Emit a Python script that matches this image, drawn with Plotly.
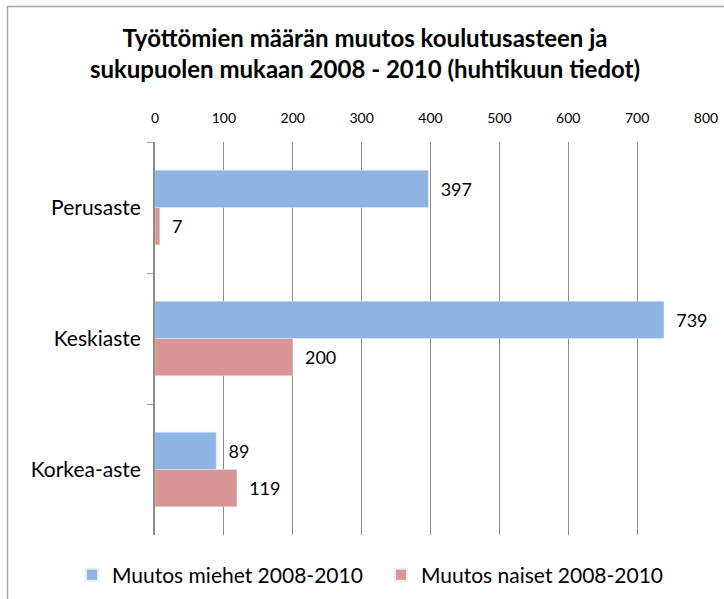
import plotly.graph_objects as go

categories = ["Perusaste", "Keskiaste", "Korkea-aste"]
miehet = [397, 739, 89]
naiset = [7, 200, 119]
series_names = ["Muutos miehet 2008-2010", "Muutos naiset 2008-2010"]
x_ticks = [0, 100, 200, 300, 400, 500, 600, 700, 800]

W, H = 724, 599
ml, mr, mt, mb = 155, 18, 142, 64
font_family = "Lato, 'Open Sans', sans-serif"

fig = go.Figure()
fig.add_trace(go.Bar(
    y=categories, x=miehet, orientation="h", name=series_names[0],
    marker=dict(color="#8EB4E3"), text=miehet, textposition="outside",
    texttemplate="\u00a0\u00a0%{x}",
    textfont=dict(size=18, color="#000000"), cliponaxis=False,
))
fig.add_trace(go.Bar(
    y=categories, x=naiset, orientation="h", name=series_names[1],
    marker=dict(color="#D99594"), text=naiset, textposition="outside",
    texttemplate="\u00a0\u00a0%{x}",
    textfont=dict(size=18, color="#000000"), cliponaxis=False,
))

pw = W - ml - mr
ph = H - mt - mb
def px_x(p):
    return (p - ml) / pw
def px_y(p):
    return 1 - (p - mt) / ph

fig.update_layout(
    width=W, height=H,
    margin=dict(l=ml, r=mr, t=mt, b=mb, autoexpand=False),
    paper_bgcolor="white", plot_bgcolor="white",
    barmode="group", bargap=0.43, bargroupgap=0,
    font=dict(family=font_family, color="#000000"),
    title=dict(
        text="<b>Työttömien määrän muutos koulutusasteen ja<br>sukupuolen mukaan 2008 - 2010 (huhtikuun tiedot)</b>",
        xref="container", yref="container",
        x=365 / W, xanchor="center", y=1 - 47 / H, yanchor="top",
        font=dict(size=24, family=font_family),
    ),
    xaxis=dict(
        side="top", range=[0, 800], tickvals=x_ticks, ticks="",
        showgrid=True, gridcolor="#8C8C8C", gridwidth=1,
        zeroline=False, showline=False, automargin=False,
        tickfont=dict(size=14), ticklabelstandoff=15,
    ),
    yaxis=dict(
        autorange="reversed", showline=True, linecolor="#8C8C8C", linewidth=2,
        ticks="outside", tickson="boundaries", ticklen=6, tickcolor="#A0A0A0",
        tickfont=dict(size=21), showgrid=False, ticklabelstandoff=8,
        automargin=False,
    ),
    legend=dict(
        orientation="h", xref="paper", yref="paper",
        x=px_x(72), xanchor="left", y=px_y(575), yanchor="middle",
        font=dict(size=21), itemsizing="constant", traceorder="normal",
        itemwidth=30, entrywidth=264, entrywidthmode="pixels",
    ),
    shapes=[
        dict(type="line", xref="paper", yref="paper", x0=px_x(7), x1=px_x(730),
             y0=px_y(6.5), y1=px_y(6.5), line=dict(color="#A6A6A6", width=1.5)),
        dict(type="line", xref="paper", yref="paper", x0=px_x(7.5), x1=px_x(7.5),
             y0=px_y(6), y1=px_y(605), line=dict(color="#A6A6A6", width=1.5)),
    ],
)

fig.write_html("out.html", config={"displayModeBar": False},
               post_script="document.body.style.margin='0';")
